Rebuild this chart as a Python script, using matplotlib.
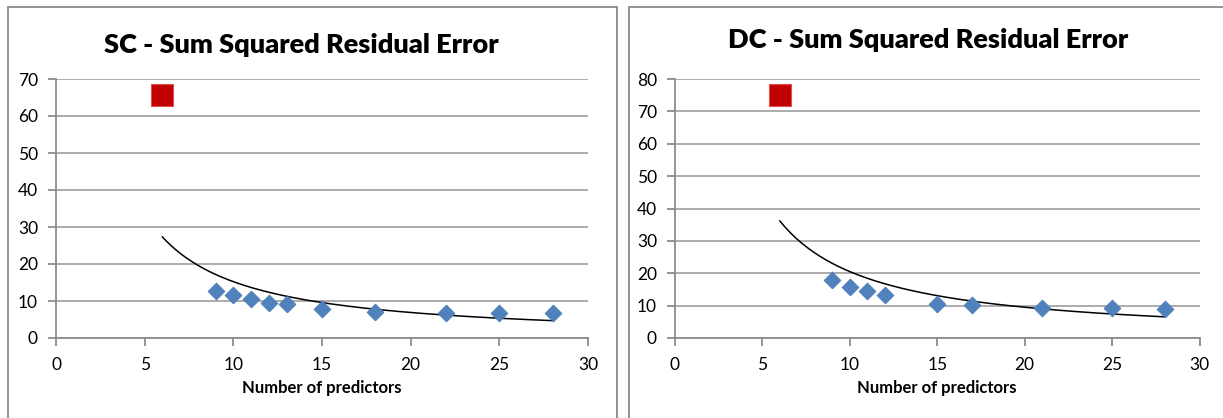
import numpy as np
import matplotlib
matplotlib.use("Agg")
import matplotlib.pyplot as plt
from matplotlib.patches import Rectangle

plt.rcParams['font.family'] = ['Lato', 'DejaVu Sans']

# SC data
sc_title = "SC - Sum Squared Residual Error"
sc_x = [9, 10, 11, 12, 13, 15, 18, 22, 25, 28]
sc_y = [12.7, 11.65, 10.6, 9.5, 9.1, 7.95, 7.05, 6.8, 6.8, 6.8]
sc_outlier_x = [6]
sc_outlier_y = [65.7]
sc_yticks = [0, 10, 20, 30, 40, 50, 60, 70]

# DC data
dc_title = "DC - Sum Squared Residual Error"
dc_x = [9, 10, 11, 12, 15, 17, 21, 25, 28]
dc_y = [17.9, 15.9, 14.5, 13.3, 10.5, 10.3, 9.2, 9.2, 9.1]
dc_outlier_x = [6]
dc_outlier_y = [75.0]
dc_yticks = [0, 10, 20, 30, 40, 50, 60, 70, 80]

xticks = [0, 5, 10, 15, 20, 25, 30]
xlabel = "Number of predictors"

W, H = 1223, 418
fig = plt.figure(figsize=(W / 100, H / 100), dpi=100)

GRID = '#a6a6a6'
AXC = '#8c8c8c'
BLUE = '#4f81bd'
RED = '#c00000'


def px(x0, y0, x1, y1):
    return [x0 / W, 1 - y1 / H, (x1 - x0) / W, (y1 - y0) / H]


# chart borders
for (x0, y0, x1, y1) in [(8, 7, 617, 430), (629, 7, 1240, 430)]:
    fig.patches.append(Rectangle((x0 / W, 1 - y1 / H), (x1 - x0) / W, (y1 - y0) / H,
                                 transform=fig.transFigure, fill=False,
                                 edgecolor='#8a8a8a', linewidth=1.3, clip_on=False))


def draw(rect, title, title_xy, xlab_xy, x, y, ox, oy, yticks):
    ax = fig.add_axes(px(*rect))
    ax.set_xlim(0, 30)
    ax.set_ylim(0, yticks[-1])
    ax.set_xticks(xticks)
    ax.set_yticks(yticks)
    ax.yaxis.grid(True, color=GRID, linewidth=1.3)
    ax.set_axisbelow(True)
    for s in ['top', 'right']:
        ax.spines[s].set_visible(False)
    for s in ['left', 'bottom']:
        ax.spines[s].set_color(AXC)
        ax.spines[s].set_linewidth(1.3)
    ax.tick_params(axis='both', colors=AXC, length=6, width=1.3, labelcolor='black',
                   labelsize=12.5)
    ax.tick_params(axis='y', pad=7)
    ax.tick_params(axis='x', pad=8)
    # power trendline fitted on all points
    allx = np.array(list(ox) + list(x), dtype=float)
    ally = np.array(list(oy) + list(y), dtype=float)
    b, lna = np.polyfit(np.log(allx), np.log(ally), 1)
    xs = np.linspace(allx.min(), allx.max(), 200)
    ax.plot(xs, np.exp(lna) * xs ** b, color='black', linewidth=1.1, zorder=2)
    ax.scatter(x, y, marker='D', s=75, color=BLUE, edgecolors='#4a7ab5',
               linewidths=0.5, zorder=3)
    ax.scatter(ox, oy, marker='s', s=240, color=RED, edgecolors='#e05050',
               linewidths=0.8, zorder=3)
    fig.text(title_xy[0] / W, 1 - title_xy[1] / H, title, ha='center', va='center',
             fontsize=19.5, fontweight='heavy')
    fig.text(xlab_xy[0] / W, 1 - xlab_xy[1] / H, xlabel, ha='center', va='center',
             fontsize=12, fontweight='bold')
    return ax


draw((56, 79, 588, 338), sc_title, (301, 45), (322, 388),
     sc_x, sc_y, sc_outlier_x, sc_outlier_y, sc_yticks)
draw((675, 79, 1199.5, 338), dc_title, (928, 40), (937, 388),
     dc_x, dc_y, dc_outlier_x, dc_outlier_y, dc_yticks)

fig.savefig('out.png', dpi=100)
